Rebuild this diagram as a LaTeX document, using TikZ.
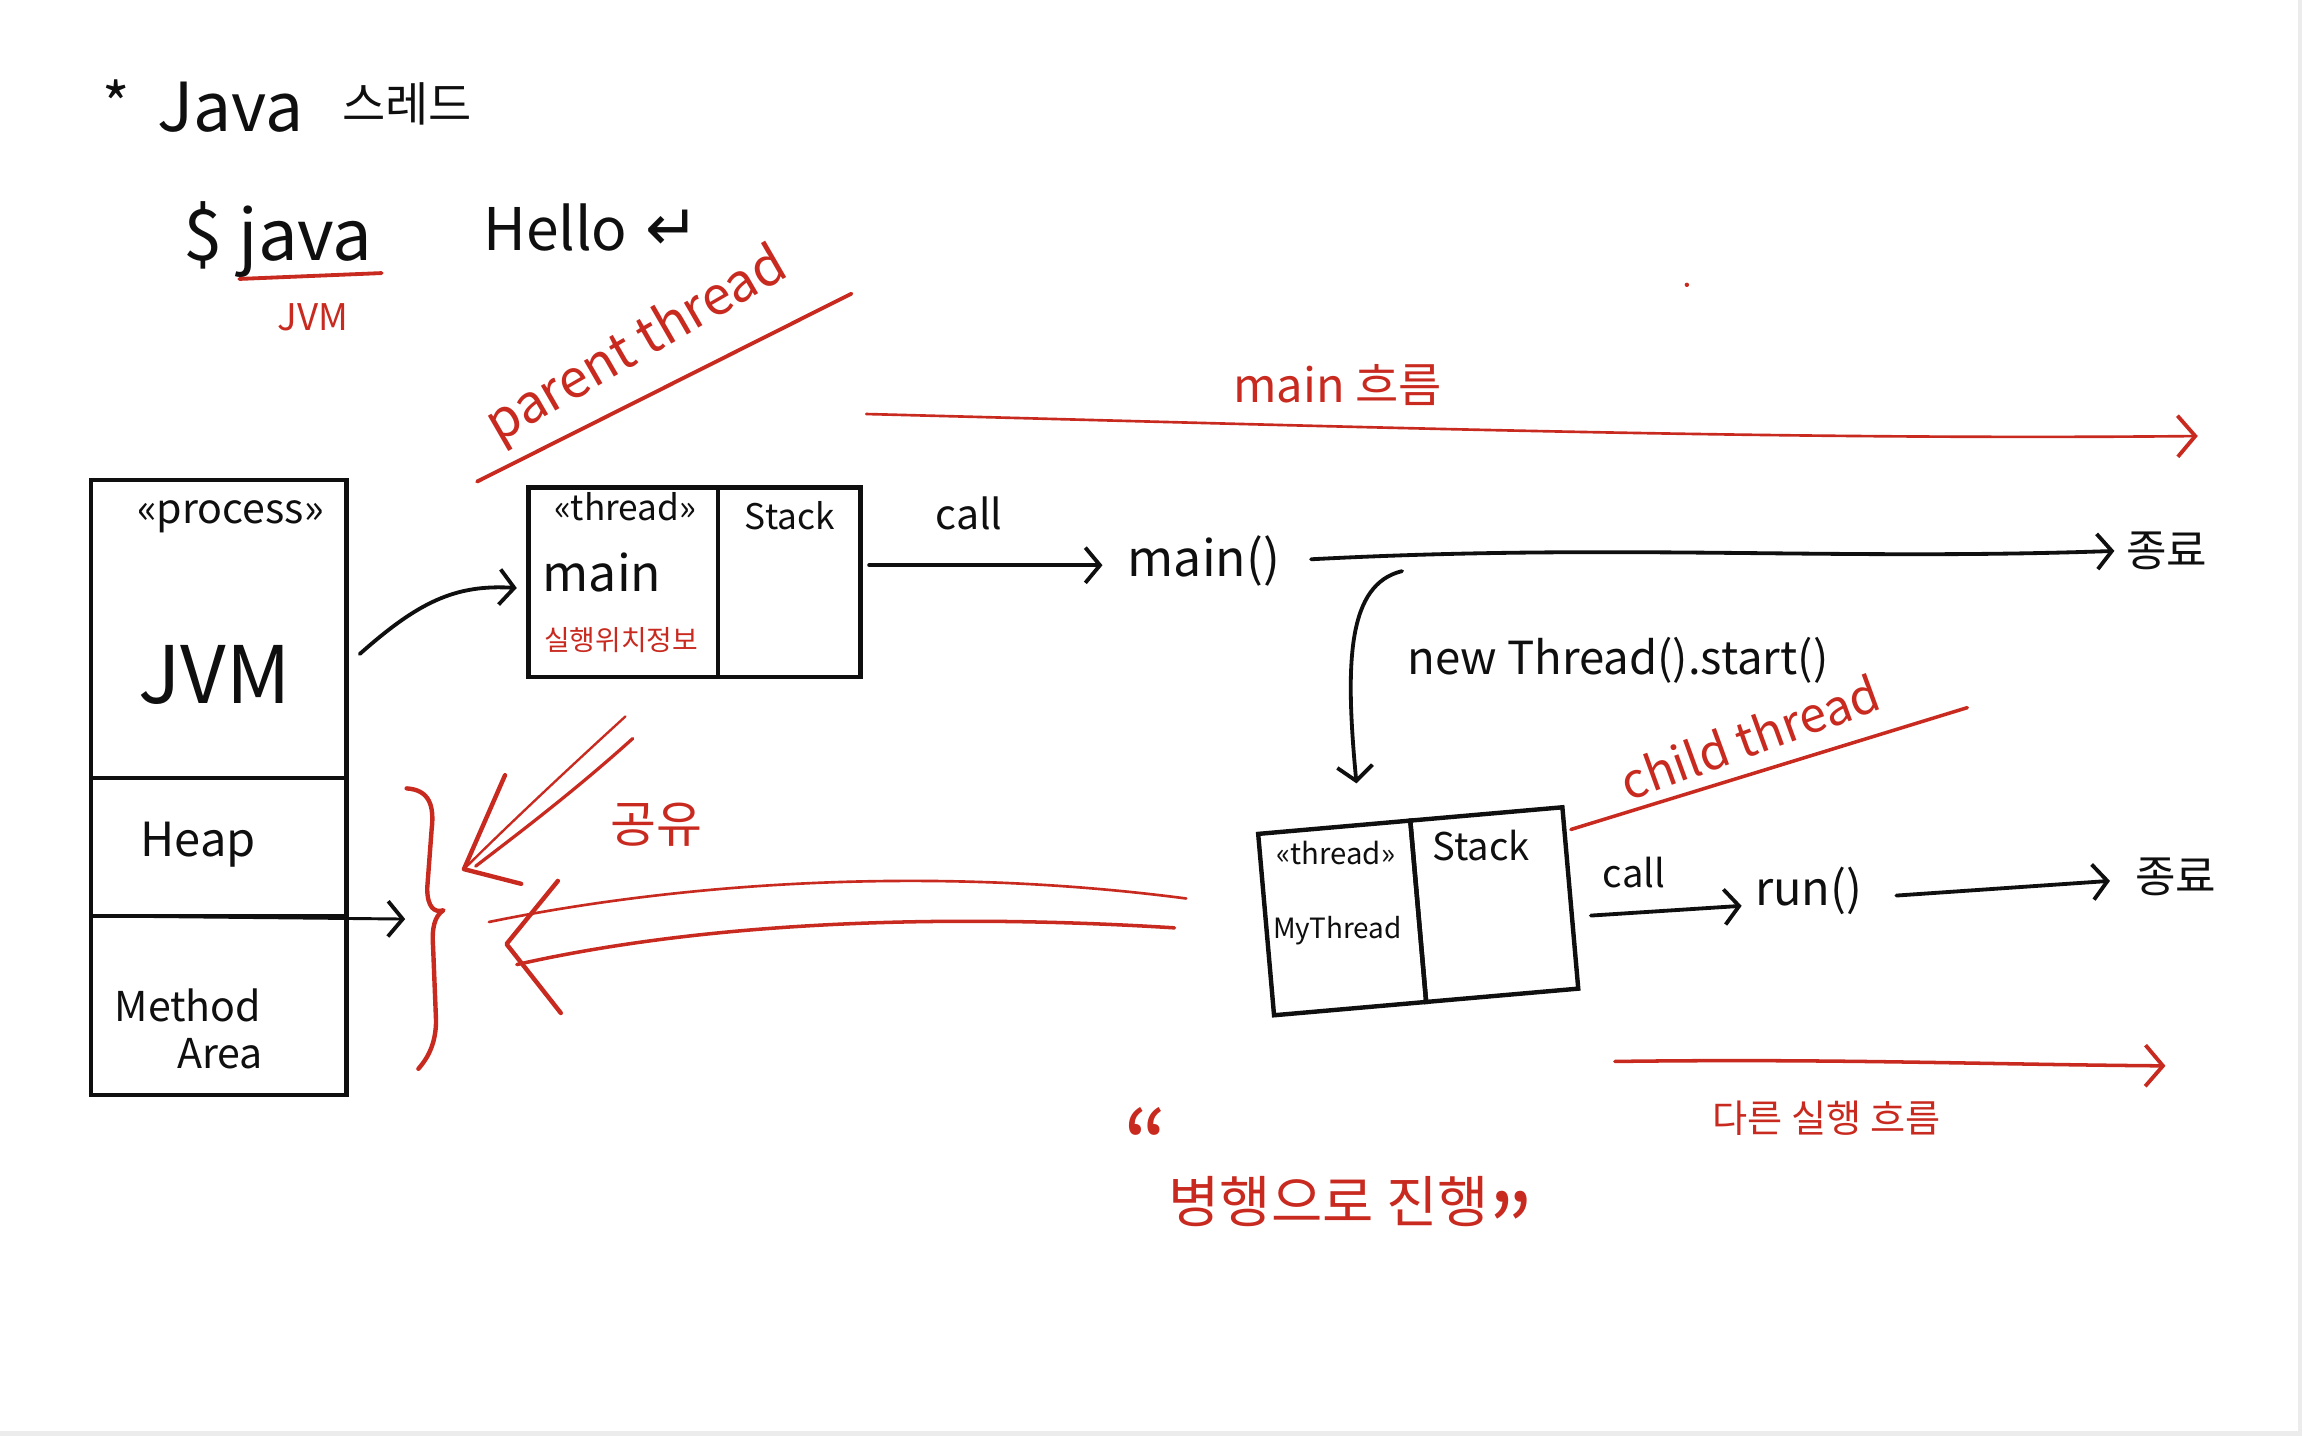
\documentclass[tikz,border=0pt]{standalone}
\usepackage{fontspec}
\setmainfont{Noto Sans CJK KR}
\newfontfamily\symfont{DejaVu Sans}
\usetikzlibrary{arrows.meta,calc}
\definecolor{pen}{RGB}{15,15,15}
\definecolor{ink}{RGB}{200,42,32}
\definecolor{edge}{RGB}{236,236,236}
\newcommand{\fsz}[1]{\fontsize{#1}{#1}\selectfont}
\begin{document}
\begin{tikzpicture}[x=1pt,y=-1pt,
  txt/.style={inner sep=1pt, text=pen},
  rtxt/.style={inner sep=1pt, text=ink},
  bline/.style={draw=pen, line width=2.6pt, line cap=round, line join=round},
  rline/.style={draw=ink, line width=2pt, line cap=round, line join=round},
  box/.style={draw=pen, line width=3pt, rectangle, inner sep=0pt, outer sep=0pt},
  bbarb/.style={-{Straight Barb[length=10pt,width=24pt,line width=2.6pt]}},
  rbarb/.style={-{Straight Barb[length=12pt,width=28pt,line width=2.6pt]}},
]
\fill[white] (0,0) rectangle (1568,978);
\useasboundingbox (0,0) rectangle (1568,978);
\fill[edge] (1565,0) rectangle (1568,978);
\fill[edge] (0,975) rectangle (1568,978);

% ---- header
\node[txt] (star) at (79,70) {\fsz{40}*};
\node[txt, anchor=west] (javaw) at (106,73) {\fsz{46}Java};
\node[txt, anchor=west] (thrko) at (232,71) {\fsz{32}스레드};
\node[txt, anchor=west] (cmd) at (124,163) {\fsz{48}\$ java};
\node[txt, anchor=west] (hello) at (328,155) {\fsz{40}Hello\hspace{0.3em}{\symfont\fsz{44}↵}};
\draw[rline, line width=2.6pt] (163,190) -- (260,186);
\node[rtxt] (jvmred) at (213,216) {\fsz{25}JVM};
\fill[ink] (1149,194) circle (1.5pt);

% ---- parent thread
\node[rtxt, rotate=30] (parent) at (434,236) {\fsz{36}parent thread};
\draw[rline, line width=2.6pt] (325,328) -- (580,200);

% ---- main flow
\node[rtxt] (mainflow) at (911,262) {\fsz{32}main 흐름};
\draw[rline, line width=1.8pt, rbarb] (590,282) .. controls (900,290) and (1200,300) .. (1497,297);

% ---- process box
\node[box, minimum width=174pt, minimum height=203pt, anchor=north west] (pjvm) at (62,327) {};
\node[box, minimum width=174pt, minimum height=94pt, anchor=north] (pheap) at (pjvm.south) {};
\node[box, minimum width=174pt, minimum height=122pt, anchor=north] (pmeth) at (pheap.south) {};
\node[txt] (proclbl) at (157,352) {\fsz{28}«process»};
\node[txt] (jvmbig) at (146,460) {\fsz{54}JVM};
\node[txt] (heaplbl) at (135,575) {\fsz{32}Heap};
\node[txt] (methlbl) at (128,685) {\fsz{28}Method};
\node[txt] (arealbl) at (150,718) {\fsz{28}Area};

% ---- main thread box
\node[box, minimum width=129pt, minimum height=129pt, anchor=north west] (tinfo) at (360,332) {};
\node[box, minimum width=97pt, minimum height=129pt, anchor=north west] (tstack) at (tinfo.north east) {};
\node[txt] (tlbl) at (426,345) {\fsz{24}«thread»};
\node[txt] (tstacklbl) at (538,351) {\fsz{24}Stack};
\node[txt] (tmainlbl) at (410,390) {\fsz{34}main};
\node[rtxt] (tpos) at (423,436) {\fsz{19}실행위치정보};

\draw[bline, bbarb] ([xshift=9pt,yshift=-17pt]pjvm.east) .. controls (285,410) and (310,398) .. ([xshift=-8pt,yshift=-4pt]tinfo.west);

% ---- main() line
\node[txt] (mainfn) at (820,382) {\fsz{34}main()};
\node[txt] (end1) at (1476,375) {\fsz{30}종료};
\node[txt] (call1) at (660,350) {\fsz{28}call};
\draw[bline, bbarb, shorten >=16pt] ($(tstack.east |- mainfn.west)+(6,3)$) -- ($(mainfn.west)+(0,3)$);
\draw[bline, bbarb, shorten <=20pt, shorten >=7pt] (mainfn.east) .. controls (1100,370) and (1250,382) .. (end1.west);

% ---- new thread
\coordinate (fork) at (955,389);
\node[txt] (newthr) at (1102,450) {\fsz{31}new Thread().start()};

% ---- child thread box
\node[box, rotate=5, minimum width=104pt, minimum height=124pt, anchor=north west] (mleft) at (857,568) {};
\node[box, rotate=5, minimum width=104pt, minimum height=124pt, anchor=north west] (mstack) at (mleft.north east) {};
\node[txt] (mlbl) at (910,581) {\fsz{20}«thread»};
\node[txt] (mstacklbl) at (1009,576) {\fsz{26}Stack};
\node[txt] (mname) at (911,634) {\fsz{19}MyThread};
\draw[bline, bbarb, shorten >=30pt] (fork) .. controls (918,398) and (916,450) .. ([xshift=18pt]mleft.north);

\node[rtxt, rotate=20] (child) at (1192,502) {\fsz{33}child thread};
\draw[rline, line width=2.4pt] (1070,565) -- (1340,482);

% ---- run() line
\node[txt] (runfn) at (1232,607) {\fsz{32}run()};
\node[txt] (end2) at (1482,597) {\fsz{30}종료};
\node[txt] (call2) at (1113,594) {\fsz{26}call};
\draw[bline, bbarb] ($(mstack.east)+(14,12)$) -- ($(runfn.west)+(-8,10)$);
\draw[bline, bbarb] ($(runfn.east)+(22,3)$) -- ($(end2.west)+(-16,3)$);

% ---- other flow
\draw[rline, line width=2.4pt, rbarb] (1100,723) .. controls (1250,721) and (1350,725) .. (1475,726);
\node[rtxt] (otherflow) at (1244,762) {\fsz{26}다른 실행 흐름};
\node[rtxt] (parallel) at (905,808) {\fsz{38}\raisebox{0.75em}{\fsz{64}“}병행으로 진행\raisebox{-0.75em}{\fsz{64}”}};

% ---- shared memory
\coordinate (brtip) at (302,620);
\coordinate (brl) at (276,626);
\draw[rline, line width=3pt] (277,537) .. controls (292,538) and (296,548) .. (294,565)
  -- (291,605) .. controls (291,618) and (296,622) .. (brtip)
  .. controls (296,624) and (294,632) .. (295,645)
  -- (297,695) .. controls (297,710) and (292,720) .. (285,728);
\draw[bline, line width=2pt, bbarb] ([xshift=15pt]pmeth.north west) -- (brl);

\coordinate (sh1) at (316,592);
\coordinate (sh2) at (345,643);
\draw[rline, line width=1.6pt] (426,488) .. controls (380,530) and (340,568) .. (sh1);
\draw[rline, line width=2.2pt] (431,503) .. controls (390,540) and (350,570) .. ($(sh1)+(8,-2)$);
\draw[rline, line width=3pt] (344,528) -- (sh1) -- (355,602);
\draw[rline, line width=1.8pt] (808,612) .. controls (640,590) and (470,600) .. (333,628);
\draw[rline, line width=2.4pt] (800,632) .. controls (640,622) and (480,628) .. (352,657);
\draw[rline, line width=3pt] (380,600) -- (sh2) -- (382,690);
\node[rtxt] (share) at (447,562) {\fsz{34}공유};
\end{tikzpicture}
\end{document}
